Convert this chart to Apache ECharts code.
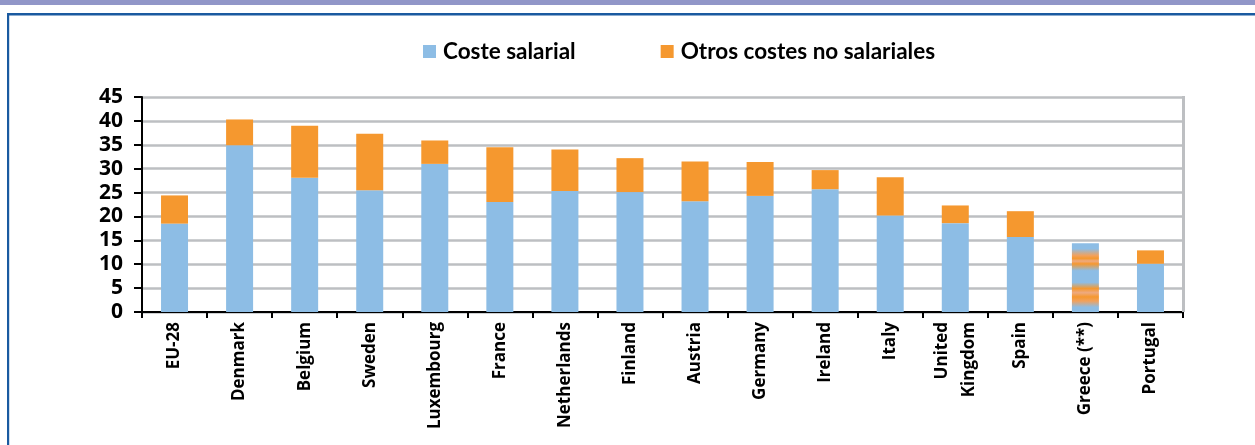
<!DOCTYPE html>
<html>
<head>
<meta charset="utf-8">
<script src="https://cdn.jsdelivr.net/npm/echarts@6/dist/echarts.min.js"></script>
<style>
html,body{margin:0;padding:0;background:#fff;}
#chart{width:1255px;height:445px;}
</style>
</head>
<body>
<div id="chart"></div>
<script>
const categories = ['EU-28','Denmark','Belgium','Sweden','Luxembourg','France','Netherlands','Finland','Austria','Germany','Ireland','Italy','United\nKingdom','Spain','Greece (**)','Portugal'];
const costeSalarial = [18.5, 34.9, 28.1, 25.5, 31.0, 23.0, 25.3, 25.1, 23.2, 24.3, 25.7, 20.2, 18.6, 15.7, 14.4, 10.1];
const otrosCostes = [5.9, 5.4, 10.9, 11.8, 4.9, 11.5, 8.7, 7.1, 8.3, 7.1, 4.0, 8.0, 3.7, 5.4, null, 2.8];
const yTicks = [0, 5, 10, 15, 20, 25, 30, 35, 40, 45];

const BLUE = '#8dbde5';
const ORANGE = '#f5982f';
const FONT = 'Open Sans';

const greeceGradient = new echarts.graphic.LinearGradient(0, 0, 0, 1, [
  {offset: 0, color: BLUE},
  {offset: 0.08, color: BLUE},
  {offset: 0.18, color: '#f2a15c'},
  {offset: 0.22, color: ORANGE},
  {offset: 0.26, color: '#eeaa80'},
  {offset: 0.30, color: ORANGE},
  {offset: 0.40, color: BLUE},
  {offset: 0.57, color: BLUE},
  {offset: 0.66, color: ORANGE},
  {offset: 0.72, color: '#eeaa80'},
  {offset: 0.78, color: ORANGE},
  {offset: 0.84, color: '#f2a15c'},
  {offset: 0.93, color: BLUE},
  {offset: 1, color: BLUE}
]);

const salData = costeSalarial.map((v, i) =>
  categories[i] === 'Greece (**)' ? {value: v, itemStyle: {color: greeceGradient}} : v);

const chart = echarts.init(document.getElementById('chart'), null, {renderer: 'canvas'});
chart.setOption({
  animation: false,
  backgroundColor: '#fff',
  graphic: [
    {type: 'rect', shape: {x: 0, y: 0, width: 1255, height: 5}, style: {fill: '#9196c8'}, silent: true},
    {type: 'rect', shape: {x: 7, y: 13, width: 1248, height: 2.5}, style: {fill: '#1a5aa0'}, silent: true},
    {type: 'rect', shape: {x: 7, y: 13, width: 2.2, height: 432}, style: {fill: '#1a5aa0'}, silent: true}
  ],
  legend: {
    top: 35,
    left: 418,
    itemGap: 85,
    itemWidth: 13,
    itemHeight: 13,
    icon: 'rect',
    textStyle: {fontFamily: 'Lato', fontWeight: 'bold', fontSize: 22.5, color: '#000', padding: [0, 0, 0, 2]},
    data: ['Coste salarial', 'Otros costes no salariales']
  },
  grid: {left: 142, right: 72, top: 97, bottom: 133, containLabel: false, show: false},
  xAxis: {
    type: 'category',
    data: categories,
    axisLine: {show: true, lineStyle: {color: '#000', width: 2}},
    axisTick: {show: true, alignWithLabel: false, length: 6, lineStyle: {color: '#000', width: 2}},
    axisLabel: {
      rotate: 90,
      interval: 0,
      fontFamily: FONT,
      fontWeight: 'bold',
      fontSize: 17,
      color: '#000',
      margin: 10,
      lineHeight: 27
    },
    splitLine: {show: false}
  },
  yAxis: {
    type: 'value',
    min: 0,
    max: 45,
    interval: 5,
    axisLine: {show: true, lineStyle: {color: '#000', width: 2}},
    axisTick: {show: true, length: 8, lineStyle: {color: '#000', width: 2}},
    axisLabel: {
      fontFamily: FONT, fontWeight: 'bold', fontSize: 21, color: '#000', margin: 19,
      formatter: v => yTicks.includes(v) ? String(v) : ''
    },
    splitLine: {show: true, lineStyle: {color: '#bdbfc2', width: 2.5}}
  },
  series: [
    {
      name: 'Coste salarial',
      type: 'bar',
      stack: 'total',
      barWidth: 27,
      itemStyle: {color: BLUE},
      data: salData
    },
    {
      name: 'Otros costes no salariales',
      type: 'bar',
      stack: 'total',
      barWidth: 27,
      itemStyle: {color: ORANGE},
      data: otrosCostes
    },
    {
      name: 'border',
      type: 'line',
      data: [],
      markLine: {
        silent: true,
        symbol: 'none',
        label: {show: false},
        lineStyle: {color: '#bdbfc2', width: 3, type: 'solid'},
        data: [[{x: 1183, y: 96}, {x: 1183, y: 312}]]
      }
    }
  ]
});
</script>
</body>
</html>
